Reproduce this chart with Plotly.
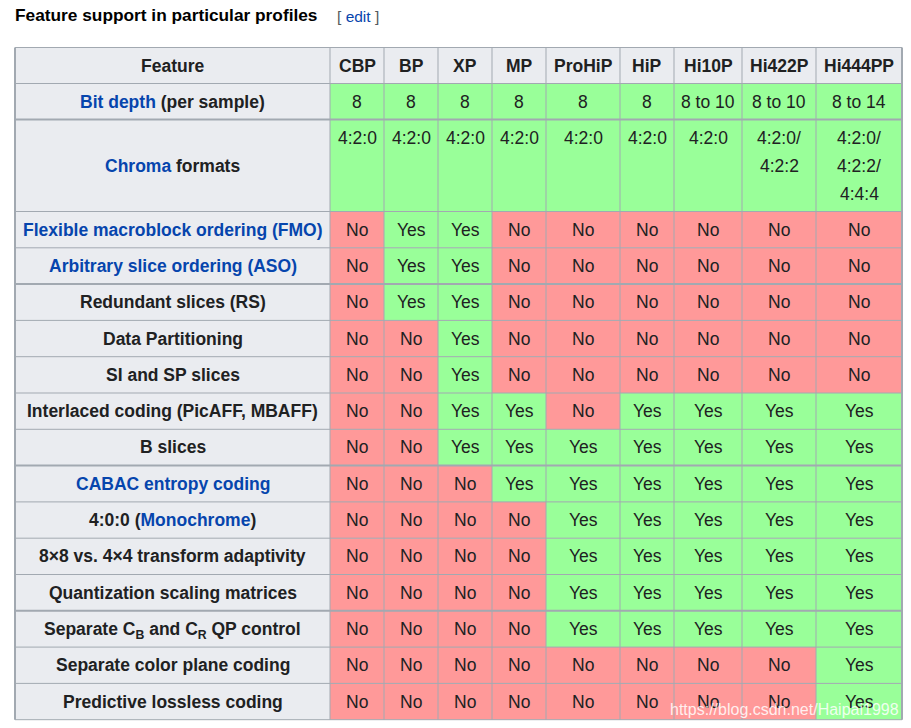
import plotly.graph_objects as go

# ---------------- data ----------------
profiles = ["CBP", "BP", "XP", "MP", "ProHiP", "HiP", "Hi10P", "Hi422P", "Hi444PP"]

bit_depth = ["8", "8", "8", "8", "8", "8", "8 to 10", "8 to 10", "8 to 14"]
chroma_formats = ["4:2:0", "4:2:0", "4:2:0", "4:2:0", "4:2:0", "4:2:0", "4:2:0",
                  "4:2:0/|4:2:2", "4:2:0/|4:2:2/|4:4:4"]

features = [
    "Flexible macroblock ordering (FMO)",
    "Arbitrary slice ordering (ASO)",
    "Redundant slices (RS)",
    "Data Partitioning",
    "SI and SP slices",
    "Interlaced coding (PicAFF, MBAFF)",
    "B slices",
    "CABAC entropy coding",
    "4:0:0 (Monochrome)",
    "8×8 vs. 4×4 transform adaptivity",
    "Quantization scaling matrices",
    "Separate CB and CR QP control",
    "Separate color plane coding",
    "Predictive lossless coding",
]

support = [
    ["No", "Yes", "Yes", "No", "No", "No", "No", "No", "No"],
    ["No", "Yes", "Yes", "No", "No", "No", "No", "No", "No"],
    ["No", "Yes", "Yes", "No", "No", "No", "No", "No", "No"],
    ["No", "No", "Yes", "No", "No", "No", "No", "No", "No"],
    ["No", "No", "Yes", "No", "No", "No", "No", "No", "No"],
    ["No", "No", "Yes", "Yes", "No", "Yes", "Yes", "Yes", "Yes"],
    ["No", "No", "Yes", "Yes", "Yes", "Yes", "Yes", "Yes", "Yes"],
    ["No", "No", "No", "Yes", "Yes", "Yes", "Yes", "Yes", "Yes"],
    ["No", "No", "No", "No", "Yes", "Yes", "Yes", "Yes", "Yes"],
    ["No", "No", "No", "No", "Yes", "Yes", "Yes", "Yes", "Yes"],
    ["No", "No", "No", "No", "Yes", "Yes", "Yes", "Yes", "Yes"],
    ["No", "No", "No", "No", "Yes", "Yes", "Yes", "Yes", "Yes"],
    ["No", "No", "No", "No", "No", "No", "No", "No", "Yes"],
    ["No", "No", "No", "No", "No", "No", "No", "No", "Yes"],
]

# ---------------- styling / layout ----------------
W, H = 911, 728
LINK = "#0645ad"
TXT = "#202122"
HEAD_BG = "#eaecf0"
GREEN = "#99ff99"
RED = "#ff9999"
BORDER = "#a2a9b1"
FONT = "Liberation Sans, Arial, sans-serif"
FS = 17.5

col_edges = [15, 330, 384, 438, 492, 546, 620, 674, 742, 816, 902]
table_top = 47.5
row_heights = [36, 36, 92] + [36.3] * len(features)
thick_after = {1, 4, 9, 13}  # row index (0=header) whose bottom border is thick

feature_labels = [
    f"<span style='color:{LINK}'>Flexible macroblock ordering (FMO)</span>",
    f"<span style='color:{LINK}'>Arbitrary slice ordering (ASO)</span>",
    "Redundant slices (RS)",
    "Data Partitioning",
    "SI and SP slices",
    "Interlaced coding (PicAFF, MBAFF)",
    "B slices",
    f"<span style='color:{LINK}'>CABAC entropy coding</span>",
    f"4:0:0 (<span style='color:{LINK}'>Monochrome</span>)",
    "8×8 vs. 4×4 transform adaptivity",
    "Quantization scaling matrices",
    "Separate C<sub>B</sub> and C<sub>R</sub> QP control",
    "Separate color plane coding",
    "Predictive lossless coding",
]

row_edges = [table_top]
for h in row_heights:
    row_edges.append(row_edges[-1] + h)

shapes = []
annotations = []


def rect(x0, x1, y0, y1, color):
    shapes.append(dict(type="rect", xref="x", yref="y", x0=x0, x1=x1, y0=y0, y1=y1,
                       fillcolor=color, line=dict(width=0), layer="below"))


def text(x, y, s, size=FS, bold=False, color=TXT, xanchor="center", yshift=0):
    if bold:
        s = f"<b>{s}</b>"
    annotations.append(dict(x=x, y=y, xref="x", yref="y", text=s, showarrow=False,
                            xanchor=xanchor, yanchor="middle", yshift=yshift,
                            font=dict(family=FONT, size=size, color=color)))


ncol = len(profiles)
col_mid = [(col_edges[i] + col_edges[i + 1]) / 2 for i in range(len(col_edges) - 1)]

# header row
for c in range(ncol + 1):
    rect(col_edges[c], col_edges[c + 1], row_edges[0], row_edges[1], HEAD_BG)
text(col_mid[0], (row_edges[0] + row_edges[1]) / 2, "Feature", bold=True)
for j, p in enumerate(profiles):
    text(col_mid[j + 1], (row_edges[0] + row_edges[1]) / 2, p, bold=True)

# body rows
body_labels = [f"<span style='color:{LINK}'>Bit depth</span> (per sample)",
               f"<span style='color:{LINK}'>Chroma</span> formats"] + feature_labels
body_values = [bit_depth, chroma_formats] + support
for r, (lab, vals) in enumerate(zip(body_labels, body_values)):
    y0, y1 = row_edges[r + 1], row_edges[r + 2]
    ym = (y0 + y1) / 2
    rect(col_edges[0], col_edges[1], y0, y1, HEAD_BG)
    text(col_mid[0], ym, lab, bold=True, yshift=-2 if "<sub>" in lab else 0)
    for j, v in enumerate(vals):
        fill = RED if v == "No" else GREEN
        rect(col_edges[j + 1], col_edges[j + 2], y0, y1, fill)
        if r == 1:
            for k, line in enumerate(v.split("|")):
                text(col_mid[j + 1], y0 + 18 + 28 * k, line)
        else:
            text(col_mid[j + 1], ym, v)

# grid lines
for i, y in enumerate(row_edges):
    w = 2 if (i - 1) in thick_after else 1
    shapes.append(dict(type="line", xref="x", yref="y", x0=col_edges[0], x1=col_edges[-1],
                       y0=y, y1=y, line=dict(color=BORDER, width=w)))
for i, x in enumerate(col_edges):
    w = 2 if i in (0, len(col_edges) - 1) else 1
    shapes.append(dict(type="line", xref="x", yref="y", x0=x, x1=x,
                       y0=row_edges[0], y1=row_edges[-1], line=dict(color=BORDER, width=w)))

# section title
annotations.append(dict(x=13, y=15, xref="x", yref="y", showarrow=False, xanchor="left",
                        yanchor="middle", text="<b>Feature support in particular profiles</b>",
                        font=dict(family=FONT, size=17.3, color="#000000")))
annotations.append(dict(x=335, y=16, xref="x", yref="y", showarrow=False, xanchor="left",
                        yanchor="middle",
                        text=f"<span style='color:#54595d'>[ </span><span style='color:{LINK}'>edit</span><span style='color:#54595d'> ]</span>",
                        font=dict(family=FONT, size=15.5, color="#54595d")))

# watermark
annotations.append(dict(x=901, y=709, xref="x", yref="y", showarrow=False, xanchor="right",
                        yanchor="middle", text="https://blog.csdn.net/Haipai1998",
                        font=dict(family=FONT, size=16, color="rgba(255,255,255,0.85)")))

fig = go.Figure()
fig.update_layout(
    width=W, height=H,
    margin=dict(l=0, r=0, t=0, b=0),
    paper_bgcolor="white", plot_bgcolor="white",
    xaxis=dict(range=[0, W], visible=False, fixedrange=True),
    yaxis=dict(range=[H, 0], visible=False, fixedrange=True),
    shapes=shapes, annotations=annotations, showlegend=False,
)
fig.write_html("out.html", config={"displayModeBar": False},
               post_script="document.body.style.margin='0px';")
